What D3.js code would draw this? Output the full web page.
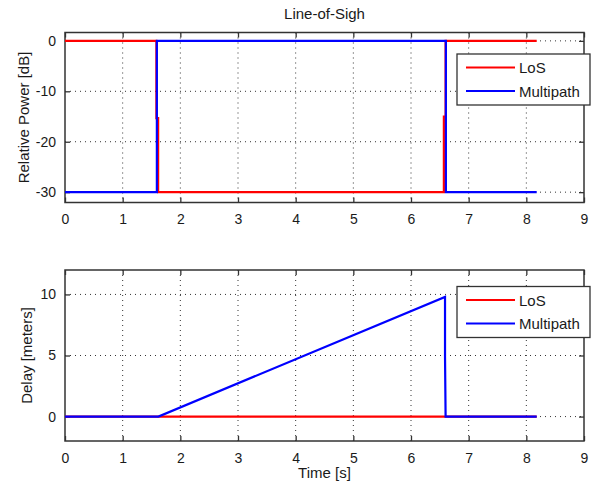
<!DOCTYPE html>
<html>
<head>
<meta charset="utf-8">
<script src="https://cdn.jsdelivr.net/npm/d3@7"></script>
<style>
  body { margin: 0; background: #fff; }
  text { font-family: "Liberation Sans", Arial, sans-serif; fill: #1a1a1a; }
</style>
</head>
<body>
<svg id="chart" width="603" height="487"></svg>
<script>
// breakpoints (time in s)
const losPowerT = [0, 1.585, 1.585, 1.615, 1.615, 6.57, 6.57, 6.60, 6.60, 8.18];
const losPowerV = [0, 0, -15.3, -15.3, -30, -30, -15, -15, 0, 0];
const mpPowerT = [0, 1.593, 1.593, 6.605, 6.605, 8.18];
const mpPowerV = [-30, -30, 0, 0, -30, -30];

const losDelayT = [0, 8.18];
const losDelayV = [0, 0];
const mpDelayT = [0, 1.62, 6.59, 6.59, 6.60, 8.18];
const mpDelayV = [0, 0, 9.8, 4.9, 0, 0];

const xTicks = [0, 1, 2, 3, 4, 5, 6, 7, 8, 9];
const powerTicks = [0, -10, -20, -30];
const delayTicks = [0, 5, 10];
const seriesNames = ["LoS", "Multipath"];
const seriesColors = ["#ff0000", "#0000ff"];

const svg = d3.select("#chart");
const axisColor = "#333";
const plain = d => String(d);   // keep ASCII hyphen for negatives

const x = d3.scaleLinear().domain([0, 9]).range([65, 584]);

function zip(t, v) { return t.map((d, i) => ({ t: d, v: v[i] })); }

function drawPanel(opts) {
    const y = d3.scaleLinear().domain(opts.yDomain).range([opts.bottom, opts.top]);
    const g = svg.append("g");

    // grid
    g.append("g").selectAll("line")
        .data(xTicks.slice(1, -1))
        .join("line")
        .attr("x1", d => x(d)).attr("x2", d => x(d))
        .attr("y1", opts.top).attr("y2", opts.bottom)
        .attr("stroke", "#333").attr("stroke-width", 1)
        .attr("stroke-dasharray", "1,4");
    g.append("g").selectAll("line")
        .data(opts.yTicks)
        .join("line")
        .attr("x1", x(0)).attr("x2", x(9))
        .attr("y1", d => y(d)).attr("y2", d => y(d))
        .attr("stroke", "#333").attr("stroke-width", 1)
        .attr("stroke-dasharray", "1,4");

    // axes with inward ticks on all four sides
    const xb = g.append("g")
        .attr("transform", `translate(0,${opts.bottom})`)
        .call(d3.axisBottom(x).tickValues(xTicks).tickFormat(plain).tickSizeInner(-5).tickSizeOuter(0).tickPadding(12));
    const xt = g.append("g")
        .attr("transform", `translate(0,${opts.top})`)
        .call(d3.axisTop(x).tickValues(xTicks).tickSizeInner(-5).tickSizeOuter(0).tickFormat(""));
    const yl = g.append("g")
        .attr("transform", `translate(${x(0)},0)`)
        .call(d3.axisLeft(y).tickValues(opts.yTicks).tickFormat(plain).tickSizeInner(-5).tickSizeOuter(0).tickPadding(9));
    const yr = g.append("g")
        .attr("transform", `translate(${x(9)},0)`)
        .call(d3.axisRight(y).tickValues(opts.yTicks).tickSizeInner(-5).tickSizeOuter(0).tickFormat(""));
    [xb, xt, yl, yr].forEach(a => {
        a.select("path").remove();
        a.selectAll("line").attr("stroke", axisColor).attr("stroke-width", 1.3);
        a.selectAll("text").style("font-size", "14px").style("fill", "#1a1a1a")
            .style("font-family", "'Liberation Sans', Arial, sans-serif");
    });

    g.append("rect")
        .attr("x", x(0)).attr("y", opts.top)
        .attr("width", x(9) - x(0)).attr("height", opts.bottom - opts.top)
        .attr("fill", "none").attr("stroke", axisColor).attr("stroke-width", 1.5);

    // series
    const line = d3.line().x(d => x(d.t)).y(d => y(d.v));
    opts.series.forEach((s, i) => {
        g.append("path")
            .datum(s)
            .attr("fill", "none")
            .attr("stroke", seriesColors[i])
            .attr("stroke-width", 2.2)
            .attr("d", line);
    });

    // y label
    g.append("text")
        .attr("transform", `translate(${opts.labelX},${(opts.top + opts.bottom) / 2}) rotate(-90)`)
        .attr("text-anchor", "middle")
        .style("font-size", "15px")
        .text(opts.yLabel);

    // legend
    const lg = g.append("g").attr("transform", `translate(457,${opts.legendTop})`);
    lg.append("rect")
        .attr("width", 133).attr("height", 51)
        .attr("fill", "#fff").attr("stroke", axisColor).attr("stroke-width", 1.3);
    seriesNames.forEach((name, i) => {
        const yy = 13.5 + i * 23.5;
        lg.append("line")
            .attr("x1", 9).attr("x2", 58)
            .attr("y1", yy).attr("y2", yy)
            .attr("stroke", seriesColors[i]).attr("stroke-width", 2.2);
        lg.append("text")
            .attr("x", 62).attr("y", yy + 5.5)
            .style("font-size", "15px")
            .text(name);
    });
    return y;
}

drawPanel({
    top: 32.5, bottom: 202.5, yDomain: [-32.05, 1.66], yTicks: powerTicks,
    series: [zip(losPowerT, losPowerV), zip(mpPowerT, mpPowerV)],
    yLabel: "Relative Power [dB]", labelX: 29, legendTop: 54
});

drawPanel({
    top: 270, bottom: 441, yDomain: [-2, 12], yTicks: delayTicks,
    series: [zip(losDelayT, losDelayV), zip(mpDelayT, mpDelayV)],
    yLabel: "Delay [meters]", labelX: 32, legendTop: 286.5
});

svg.append("text")
    .attr("x", (x(0) + x(9)) / 2).attr("y", 19)
    .attr("text-anchor", "middle")
    .style("font-size", "15px")
    .text("Line-of-Sigh");

svg.append("text")
    .attr("x", (x(0) + x(9)) / 2).attr("y", 478)
    .attr("text-anchor", "middle")
    .style("font-size", "15px")
    .text("Time [s]");
</script>
</body>
</html>
